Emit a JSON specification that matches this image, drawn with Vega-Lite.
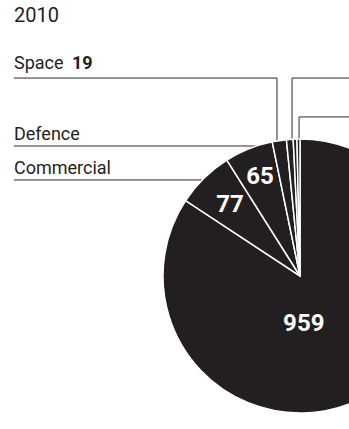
{
  "$schema": "https://vega.github.io/schema/vega-lite/v6.json",
  "width": 349,
  "height": 399,
  "autosize": "none",
  "padding": {"left": 0, "top": 30, "right": 0, "bottom": 0},
  "background": "white",
  "config": {"view": {"stroke": null}, "font": "Roboto"},
  "title": {"text": "2010", "anchor": "start", "dx": 14, "fontSize": 20, "fontWeight": "normal", "color": "#231f20", "font": "Roboto"},
  "datasets": {
    "slices": [
      {"name": "Other", "value": 959},
      {"name": "Commercial", "value": 77},
      {"name": "Defence", "value": 65},
      {"name": "Space", "value": 19},
      {"name": "Slice A", "value": 9},
      {"name": "Slice B", "value": 5},
      {"name": "Slice C", "value": 4}
    ],
    "leaders": [
      {"name": "Space", "step": 1, "x": -2.088, "y": 1.445},
      {"name": "Space", "step": 2, "x": -0.168, "y": 1.445},
      {"name": "Space", "step": 3, "x": -0.168, "y": 0.95},
      {"name": "Defence", "step": 1, "x": -2.088, "y": 0.949},
      {"name": "Defence", "step": 2, "x": -0.3, "y": 0.949},
      {"name": "Commercial", "step": 1, "x": -2.088, "y": 0.701},
      {"name": "Commercial", "step": 2, "x": -0.7, "y": 0.701},
      {"name": "Slice A", "step": 1, "x": -0.058, "y": 0.95},
      {"name": "Slice A", "step": 2, "x": -0.058, "y": 1.445},
      {"name": "Slice A", "step": 3, "x": 0.36, "y": 1.445},
      {"name": "Slice C", "step": 1, "x": -0.007, "y": 0.95},
      {"name": "Slice C", "step": 2, "x": -0.007, "y": 1.161},
      {"name": "Slice C", "step": 3, "x": 0.36, "y": 1.161}
    ],
    "labels": [
      {"name": "Space", "value": "19", "x": -2.088, "y": 1.511},
      {"name": "Defence", "value": "", "x": -2.088, "y": 0.993},
      {"name": "Commercial", "value": "", "x": -2.088, "y": 0.745}
    ]
  },
  "layer": [
    {
      "data": {"name": "leaders"},
      "mark": {"type": "line", "color": "#2a2a2a", "strokeWidth": 1, "clip": true},
      "encoding": {
        "x": {"field": "x", "type": "quantitative", "scale": {"domain": [-2.1898, 0.3577], "nice": false, "zero": false}, "axis": null},
        "y": {"field": "y", "type": "quantitative", "scale": {"domain": [-1.1168, 1.7956], "nice": false, "zero": false}, "axis": null},
        "detail": {"field": "name"},
        "order": {"field": "step"}
      }
    },
    {
      "data": {"name": "slices"},
      "mark": {"type": "arc", "outerRadius": 137, "fill": "#231f20", "stroke": "white", "strokeWidth": 1.5},
      "encoding": {
        "x": {"datum": 0, "type": "quantitative"},
        "y": {"datum": 0, "type": "quantitative"},
        "theta": {"field": "value", "type": "quantitative", "stack": true},
        "order": {"field": "value", "sort": "descending"}
      }
    },
    {
      "data": {"name": "slices"},
      "mark": {"type": "text", "radius": 107, "color": "white", "fontSize": 24, "fontWeight": "bold", "font": "Roboto", "align": "center", "baseline": "middle"},
      "encoding": {
        "x": {"datum": 0, "type": "quantitative"},
        "y": {"datum": 0, "type": "quantitative"},
        "theta": {"field": "value", "type": "quantitative", "stack": true},
        "order": {"field": "value", "sort": "descending"},
        "text": {"condition": {"test": "datum.name === 'Defence'", "field": "value"}, "value": ""}
      }
    },
    {
      "data": {"name": "slices"},
      "mark": {"type": "text", "radius": 100, "color": "white", "fontSize": 24, "fontWeight": "bold", "font": "Roboto", "align": "center", "baseline": "middle"},
      "encoding": {
        "x": {"datum": 0, "type": "quantitative"},
        "y": {"datum": 0, "type": "quantitative"},
        "theta": {"field": "value", "type": "quantitative", "stack": true},
        "order": {"field": "value", "sort": "descending"},
        "text": {"condition": {"test": "datum.name === 'Commercial'", "field": "value"}, "value": ""}
      }
    },
    {
      "data": {"name": "slices"},
      "mark": {"type": "text", "radius": 48, "dx": -19, "dy": 6, "color": "white", "fontSize": 24, "fontWeight": "bold", "font": "Roboto", "align": "center", "baseline": "middle"},
      "encoding": {
        "x": {"datum": 0, "type": "quantitative"},
        "y": {"datum": 0, "type": "quantitative"},
        "theta": {"field": "value", "type": "quantitative", "stack": true},
        "order": {"field": "value", "sort": "descending"},
        "text": {"condition": {"test": "datum.name === 'Other'", "field": "value"}, "value": ""}
      }
    },
    {
      "data": {"name": "labels"},
      "mark": {"type": "text", "align": "left", "baseline": "alphabetic", "fontSize": 18, "font": "Roboto", "color": "#231f20"},
      "encoding": {
        "x": {"field": "x", "type": "quantitative"},
        "y": {"field": "y", "type": "quantitative"},
        "text": {"field": "name"}
      }
    },
    {
      "data": {"name": "labels"},
      "mark": {"type": "text", "align": "left", "baseline": "alphabetic", "fontSize": 18, "fontWeight": "bold", "font": "Roboto", "color": "#231f20", "dx": 58},
      "encoding": {
        "x": {"field": "x", "type": "quantitative"},
        "y": {"field": "y", "type": "quantitative"},
        "text": {"field": "value"}
      }
    }
  ]
}
